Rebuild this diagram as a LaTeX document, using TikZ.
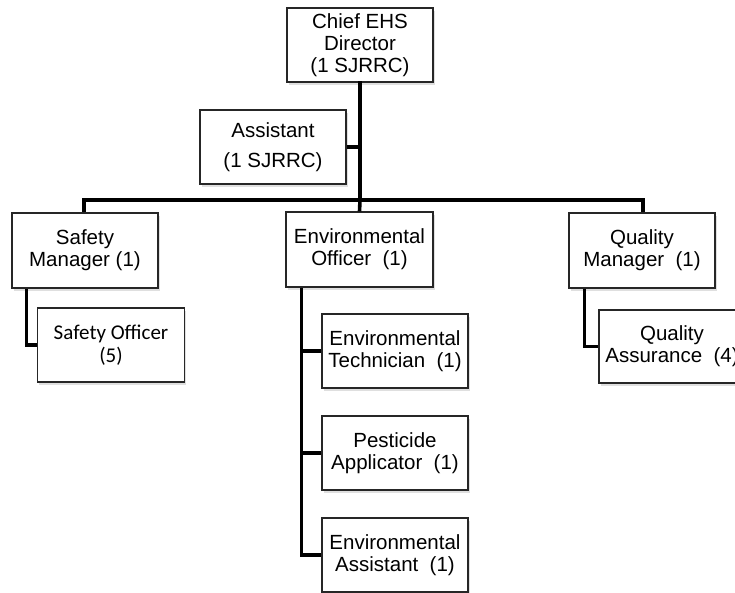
\documentclass[tikz,border=0pt]{standalone}
\usepackage{fontspec}
\setmainfont{Liberation Sans}
\newfontfamily\calibrifont{Carlito}
\usetikzlibrary{shadows}

\tikzset{
  box/.style={draw=black!85, line width=1.1pt, fill=white, align=center,
    minimum width=146pt, minimum height=74pt, inner sep=0pt,
    font=\fontsize{20.5}{22}\selectfont,
    drop shadow={shadow xshift=1.5pt, shadow yshift=-2.5pt, opacity=0.25}},
  link/.style={line width=3.6pt, line cap=rect}
}

\begin{document}
\begin{tikzpicture}[x=1pt, y=-1pt]

\useasboundingbox (0,0) rectangle (735,592);
\clip (0,0) rectangle (735,592);

\node (chief) at (360,45) [box] {Chief EHS\\Director\\(1 SJRRC)};
\node (assist) at (273,147) [box, font=\fontsize{20.5}{30}\selectfont] {Assistant\\(1 SJRRC)};

\coordinate (busL) at (84,200);
\coordinate (busR) at (643,200);

%%%%%%%%%%%%%%%%%%%%%%%%%%%%%%%%%%%%%%%%%%%%%%%%%%%%%%%%%%%%%%%%%%%%%%%%%%%%%%%%%%%
\node (safemgr) at (85,250.5) [box, minimum height=75pt] {Safety\\Manager (1)};
\node (safeoff) at (111,345) [box, minimum width=147pt, font=\calibrifont\fontsize{21}{23}\selectfont] {Safety Officer\\(5)};

\node (envoff) at (359.5,249.5) [box, minimum width=147pt, minimum height=75pt] {Environmental\\Officer~~(1)};
\node (envtech) at (395,351) [box] {Environmental\\Technician~~(1)};
\node (pest) at (395,453) [box] {Pesticide\\Applicator~~(1)};
\node (envasst) at (395,555) [box] {Environmental\\Assistant~~(1)};

\node (qualmgr) at (642,250.5) [box, minimum height=75pt] {Quality\\Manager~~(1)};
\node (qualass) at (672,346.5) [box, minimum height=73pt] {Quality\\Assurance~~(4)};
%%%%%%%%%%%%%%%%%%%%%%%%%%%%%%%%%%%%%%%%%%%%%%%%%%%%%%%%%%%%%%%%%%%%%%%%%%%%%%%%%%%

\draw [link] (chief.south) -- (chief.south |- busL);
\draw [link, line cap=butt] (assist.east) -- (assist.east -| chief.south);
\draw [link] (busL) -- (busR);

\draw [link, line cap=butt] (busL) -- (busL |- safemgr.north);
\draw [link, line cap=butt] (chief.south |- busL) -- (envoff.north);
\draw [link, line cap=butt] (busR) -- (busR |- qualmgr.north);

\draw [link, line cap=butt] ([xshift=15pt]safemgr.south west) |- (safeoff.west);

\draw [link, line cap=butt] ([xshift=16pt]envoff.south west) |- (envasst.west);
\draw [link, line cap=butt] ([xshift=16pt]envoff.south west |- envtech.west) -- (envtech.west);
\draw [link, line cap=butt] ([xshift=16pt]envoff.south west |- pest.west) -- (pest.west);

\draw [link, line cap=butt] ([xshift=16pt]qualmgr.south west) |- (qualass.west);

\end{tikzpicture}
\end{document}
